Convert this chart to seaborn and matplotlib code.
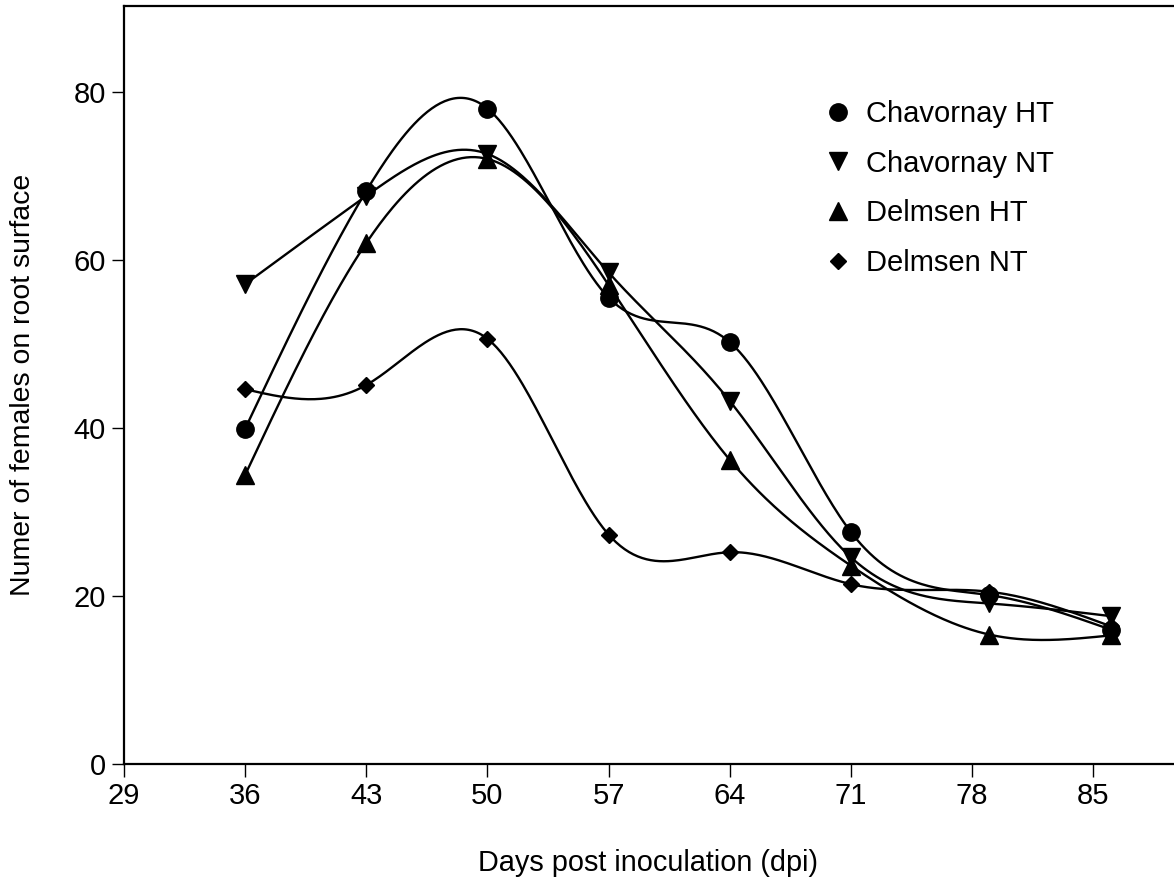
import numpy as np
import pandas as pd
import matplotlib
matplotlib.use('Agg')
import matplotlib.pyplot as plt
import seaborn as sns

# data
days = [36, 43, 50, 57, 64, 71, 79, 86]
chav_ht = [39.9, 68.2, 78.0, 55.5, 50.2, 27.6, 20.1, 16.0]
chav_nt = [57.1, 67.6, 72.6, 58.5, 43.2, 24.6, 19.1, 17.6]
dels_ht = [34.4, 62.0, 72.0, 57.0, 36.2, 23.6, 15.4, 15.3]
dels_nt = [44.6, 45.1, 50.6, 27.3, 25.2, 21.4, 20.5, 16.4]

series = ['Chavornay HT', 'Chavornay NT', 'Delmsen HT', 'Delmsen NT']
values = [chav_ht, chav_nt, dels_ht, dels_nt]
markers = ['o', 'v', '^', 'D']
msizes = [12.5, 12.5, 12.5, 8.5]

x_ticks = [29, 36, 43, 50, 57, 64, 71, 78, 85]
y_ticks = [0, 20, 40, 60, 80]


def natural_spline(x, y, xs):
    # natural cubic spline through the points (for the smooth curves)
    x = np.asarray(x, float)
    y = np.asarray(y, float)
    n = len(x)
    h = np.diff(x)
    A = np.zeros((n, n))
    b = np.zeros(n)
    A[0, 0] = 1
    A[-1, -1] = 1
    for i in range(1, n - 1):
        A[i, i - 1] = h[i - 1]
        A[i, i] = 2 * (h[i - 1] + h[i])
        A[i, i + 1] = h[i]
        b[i] = 6 * ((y[i + 1] - y[i]) / h[i] - (y[i] - y[i - 1]) / h[i - 1])
    M = np.linalg.solve(A, b)
    idx = np.clip(np.searchsorted(x, xs) - 1, 0, n - 2)
    x0, x1 = x[idx], x[idx + 1]
    hh = x1 - x0
    t0 = x1 - xs
    t1 = xs - x0
    return (M[idx] * t0 ** 3 / (6 * hh) + M[idx + 1] * t1 ** 3 / (6 * hh)
            + (y[idx] / hh - M[idx] * hh / 6) * t0
            + (y[idx + 1] / hh - M[idx + 1] * hh / 6) * t1)


sns.set_style('ticks')
plt.rcParams['font.family'] = ['Liberation Sans', 'DejaVu Sans']
plt.rcParams['text.color'] = 'black'
plt.rcParams['axes.labelcolor'] = 'black'
plt.rcParams['xtick.color'] = 'black'
plt.rcParams['ytick.color'] = 'black'

fig = plt.figure(figsize=(11.74, 8.84), dpi=100)
ax = fig.add_axes([124 / 1174, 120 / 884, 1 - 124 / 1174 - 0.001, 758 / 884])

xs = np.linspace(days[0], days[-1], 400)
rows = []
for name, vals in zip(series, values):
    for xv, yv in zip(xs, natural_spline(days, vals, xs)):
        rows.append((name, xv, yv))
curves = pd.DataFrame(rows, columns=['series', 'day', 'n'])

sns.lineplot(data=curves, x='day', y='n', units='series', estimator=None,
             color='black', lw=1.7, ax=ax, legend=False)

for name, vals, m, ms in zip(series, values, markers, msizes):
    ax.plot(days, vals, linestyle='none', marker=m, markersize=ms,
            color='black', label=name)

ax.set_xlim(29, 89.6)
ax.set_ylim(0, 90.2)
ax.set_xticks(x_ticks)
ax.set_yticks(y_ticks)
ax.tick_params(labelsize=21, length=9, width=1, pad=4)
for s in ['left', 'bottom', 'top']:
    ax.spines[s].set_linewidth(1.6)
    ax.spines[s].set_color('black')
ax.spines['right'].set_visible(False)

ax.set_xlabel('Days post inoculation (dpi)', fontsize=20.8, labelpad=28)
ax.set_ylabel('Numer of females on root surface', fontsize=20.4, labelpad=27)

ax.legend(loc='upper left', bbox_to_anchor=(0.667, 0.876), frameon=False,
          fontsize=21, handlelength=1.0, handletextpad=0.46, labelspacing=0.74,
          borderaxespad=0, borderpad=0)

fig.savefig('out.png', dpi=100)
